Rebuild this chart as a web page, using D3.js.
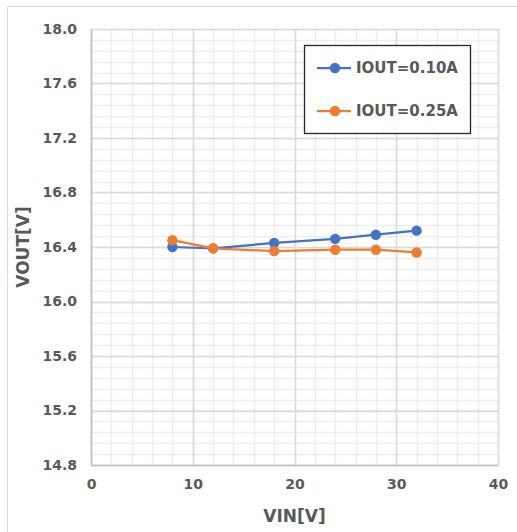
<!DOCTYPE html>
<html><head><meta charset="utf-8">
<script src="https://cdn.jsdelivr.net/npm/d3@7"></script>
<style>body{margin:0;background:#fff}svg{display:block}</style>
</head><body>
<script>
const vin = [8, 12, 18, 24, 28, 32];
const vout010 = [16.40, 16.39, 16.43, 16.46, 16.49, 16.52];
const vout025 = [16.45, 16.39, 16.37, 16.38, 16.38, 16.36];
const seriesNames = ["IOUT=0.10A", "IOUT=0.25A"];
const xTicks = [0, 10, 20, 30, 40];
const yTicks = [14.8, 15.2, 15.6, 16.0, 16.4, 16.8, 17.2, 17.6, 18.0];

const W = 517, H = 532;
const m = {l: 91, r: 19, t: 29, b: 67};
const colors = ["#4472C4", "#ED7D31"];
const font = "'DejaVu Sans', Verdana, sans-serif";

const svg = d3.select("body").append("svg").attr("width", W).attr("height", H);
svg.append("rect").attr("x", 7.5).attr("y", 6.5).attr("width", W).attr("height", H)
  .attr("fill", "#fff").attr("stroke", "#d9d9d9");

const x = d3.scaleLinear().domain([0, 40]).range([m.l, W - m.r]);
const y = d3.scaleLinear().domain([14.8, 18.0]).range([H - m.b, m.t]);

const g = svg.append("g");
// minor grid
const xMinor = d3.range(0, 40.001, 2);
const yMinor = d3.range(0, 40.5).map(i => 14.8 + i * 0.08);
g.selectAll(".xm").data(xMinor).join("line")
  .attr("x1", d => Math.round(x(d)) + 0.5).attr("x2", d => Math.round(x(d)) + 0.5)
  .attr("y1", y(14.8)).attr("y2", y(18)).attr("stroke", "#ededed").attr("stroke-width", 1.5);
g.selectAll(".ym").data(yMinor).join("line")
  .attr("y1", d => Math.round(y(d)) + 0.5).attr("y2", d => Math.round(y(d)) + 0.5)
  .attr("x1", x(0)).attr("x2", x(40)).attr("stroke", "#ededed").attr("stroke-width", 1.5);
// major grid
g.selectAll(".xM").data(xTicks).join("line")
  .attr("x1", d => Math.round(x(d)) + 0.5).attr("x2", d => Math.round(x(d)) + 0.5)
  .attr("y1", y(14.8)).attr("y2", y(18)).attr("stroke", "#d9d9d9").attr("stroke-width", 1.5);
g.selectAll(".yM").data(yTicks).join("line")
  .attr("y1", d => Math.round(y(d)) + 0.5).attr("y2", d => Math.round(y(d)) + 0.5)
  .attr("x1", x(0)).attr("x2", x(40)).attr("stroke", "#d9d9d9").attr("stroke-width", 1.5);

// axes
const xAxis = d3.axisBottom(x).tickValues(xTicks).tickSize(0).tickPadding(14).tickFormat(d3.format("d"));
const yAxis = d3.axisLeft(y).tickValues(yTicks).tickSize(0).tickPadding(14).tickFormat(d3.format(".1f"));
const gx = svg.append("g").attr("transform", `translate(0,${y(14.8)})`).call(xAxis);
const gy = svg.append("g").attr("transform", `translate(${x(0)},0)`).call(yAxis);
[gx, gy].forEach(a => {
  a.select(".domain").attr("stroke", "#bfbfbf").attr("stroke-width", 1.5);
  a.selectAll("text").attr("font-family", font).attr("font-weight", "bold")
    .attr("font-size", 14).attr("fill", "#595959");
});

svg.append("text").attr("x", (x(0) + x(40)) / 2).attr("y", 522).attr("text-anchor", "middle")
  .attr("font-family", font).attr("font-weight", "bold").attr("font-size", 17).attr("fill", "#595959")
  .text("VIN[V]");
svg.append("text").attr("transform", `translate(29,${(y(14.8) + y(18)) / 2}) rotate(-90)`)
  .attr("text-anchor", "middle")
  .attr("font-family", font).attr("font-weight", "bold").attr("font-size", 17).attr("fill", "#595959")
  .text("VOUT[V]");

// series
const series = [vout010, vout025];
const line = d3.line().x((d, i) => x(vin[i])).y(d => y(d));
series.forEach((s, k) => {
  svg.append("path").datum(s).attr("d", line).attr("fill", "none")
    .attr("stroke", colors[k]).attr("stroke-width", 2.25).attr("stroke-linejoin", "round");
  svg.selectAll(".pt" + k).data(s).join("circle")
    .attr("cx", (d, i) => x(vin[i])).attr("cy", d => y(d)).attr("r", 5.2).attr("fill", colors[k]);
});

// legend
const lg = svg.append("g");
lg.append("rect").attr("x", 304.5).attr("y", 45.5).attr("width", 166).attr("height", 88)
  .attr("fill", "#fff").attr("stroke", "#262626").attr("stroke-width", 1.3);
seriesNames.forEach((n, k) => {
  const ly = 68 + k * 43;
  lg.append("line").attr("x1", 317).attr("x2", 351).attr("y1", ly).attr("y2", ly)
    .attr("stroke", colors[k]).attr("stroke-width", 2.25);
  lg.append("circle").attr("cx", 335).attr("cy", ly).attr("r", 5.2).attr("fill", colors[k]);
  lg.append("text").attr("x", 356).attr("y", ly).attr("dy", "0.36em")
    .attr("font-family", font).attr("font-weight", "bold").attr("font-size", 15).attr("fill", "#595959")
    .text(n);
});
</script>
</body></html>
